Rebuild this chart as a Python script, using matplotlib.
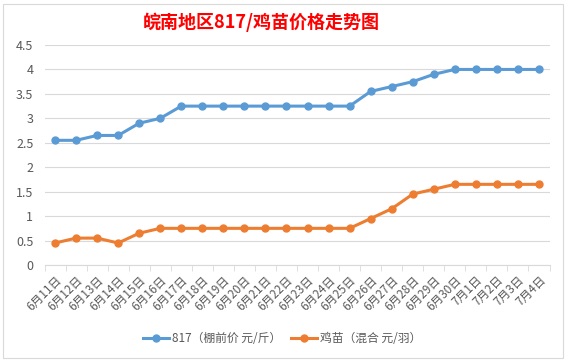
import matplotlib
matplotlib.use("Agg")
import matplotlib.pyplot as plt
from matplotlib.patches import Rectangle

plt.rcParams['font.family'] = ['Noto Sans CJK SC', 'DejaVu Sans']

dates = ["6月11日", "6月12日", "6月13日", "6月14日", "6月15日", "6月16日",
         "6月17日", "6月18日", "6月19日", "6月20日", "6月21日", "6月22日",
         "6月23日", "6月24日", "6月25日", "6月26日", "6月27日", "6月28日",
         "6月29日", "6月30日", "7月1日", "7月2日", "7月3日", "7月4日"]
price_817 = [2.55, 2.55, 2.65, 2.65, 2.9, 3.0, 3.25, 3.25, 3.25, 3.25, 3.25, 3.25,
             3.25, 3.25, 3.25, 3.55, 3.65, 3.75, 3.9, 4.0, 4.0, 4.0, 4.0, 4.0]
price_chick = [0.45, 0.55, 0.55, 0.45, 0.65, 0.75, 0.75, 0.75, 0.75, 0.75, 0.75, 0.75,
               0.75, 0.75, 0.75, 0.95, 1.15, 1.45, 1.55, 1.65, 1.65, 1.65, 1.65, 1.65]
yticks = [0, 0.5, 1, 1.5, 2, 2.5, 3, 3.5, 4, 4.5]
ylabels = ["0", "0.5", "1", "1.5", "2", "2.5", "3", "3.5", "4", "4.5"]

fig = plt.figure(figsize=(5.68, 3.62), dpi=100)
fig.patches.append(Rectangle((3/568, 4/362), 560/568, 354/362, transform=fig.transFigure,
                             fill=False, edgecolor='#d9d9d9', linewidth=0.8))

ax = fig.add_axes([44.5/568, 97/362, 505/568, 220/362])
x = list(range(len(dates)))
ax.plot(x, price_817, color='#5B9BD5', linewidth=2.2, marker='o', markersize=5,
        label='817（棚前价 元/斤）')
ax.plot(x, price_chick, color='#ED7D31', linewidth=2.2, marker='o', markersize=5,
        label='鸡苗（混合 元/羽）')

ax.set_xlim(-0.5, len(dates) - 0.5)
ax.set_ylim(0, 4.5)
ax.set_yticks(yticks)
ax.set_yticklabels(ylabels)
ax.set_xticks(x)
ax.set_xticklabels(dates, rotation=45, ha='right', rotation_mode='anchor')
ax.set_xticks([i - 0.5 for i in range(len(dates) + 1)], minor=True)
ax.tick_params(axis='x', which='major', length=0, pad=6, labelsize=8.5, colors='#595959')
ax.tick_params(axis='x', which='minor', length=4, color='#d9d9d9')
ax.tick_params(axis='y', length=0, labelsize=9, colors='#595959', pad=8)
ax.grid(axis='y', color='#d9d9d9', linewidth=0.8)
ax.set_axisbelow(True)
for s in ['top', 'right', 'left']:
    ax.spines[s].set_visible(False)
ax.spines['bottom'].set_color('#d9d9d9')

fig.text(261/568, 0.938, '皖南地区817/鸡苗价格走势图', ha='center', va='center',
         color='#ff0000', fontsize=13, fontweight='bold')

fig.legend(loc='center', bbox_to_anchor=(282/568, 23/362), ncol=2, frameon=False,
           fontsize=8.5, labelcolor='#595959', handlelength=2.2, handletextpad=0.3,
           columnspacing=0.8)

fig.savefig('out.png', dpi=100)
